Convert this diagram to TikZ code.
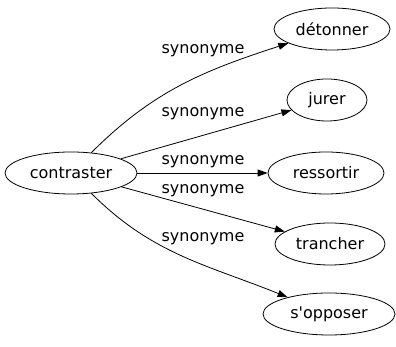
\documentclass[tikz,border=0pt]{standalone}
\usepackage{fontspec}
\setmainfont{DejaVu Sans}
\usetikzlibrary{shapes.geometric,arrows.meta}

\begin{document}
\begin{tikzpicture}[x=1pt, y=1pt, thick,
    word/.style={draw, ellipse, line width=0.8pt, minimum height=42pt, inner sep=0pt, font=\fontsize{16}{18}\selectfont},
    rel/.style={line width=0.8pt, -{Triangle[length=10pt,width=7pt]}},
    lbl/.style={font=\fontsize{16}{18}\selectfont, inner sep=0pt}]
        \useasboundingbox (0,0) rectangle (396,347);

        % Nodes
        \node[word, minimum width=132pt] (contraster) at (71,174) {contraster};
        \node[word, minimum width=116pt] (detonner) at (332,318) {détonner};
        \node[word, minimum width=80pt] (jurer) at (327,247) {jurer};
        \node[word, minimum width=116pt] (ressortir) at (326,174) {ressortir};
        \node[word, minimum width=110pt] (trancher) at (330,103) {trancher};
        \node[word, minimum width=132pt] (sopposer) at (329,33) {s\textquotesingle opposer};

        % Edges
        \draw[rel] (contraster) to[out=45, in=198] (detonner);
        \draw[rel] (contraster) -- (jurer);
        \draw[rel] (contraster) -- (ressortir);
        \draw[rel] (contraster) -- (trancher);
        \draw[rel] (contraster) to[out=-45, in=158] (sopposer);

        % Labels
        \node[lbl] (l1) at (203,296) {synonyme};
        \node[lbl] (l2) at (203,233) {synonyme};
        \node[lbl] (l3) at (203,185) {synonyme};
        \node[lbl] (l4) at (203,156) {synonyme};
        \node[lbl] (l5) at (203,108) {synonyme};
    \end{tikzpicture}
\end{document}
